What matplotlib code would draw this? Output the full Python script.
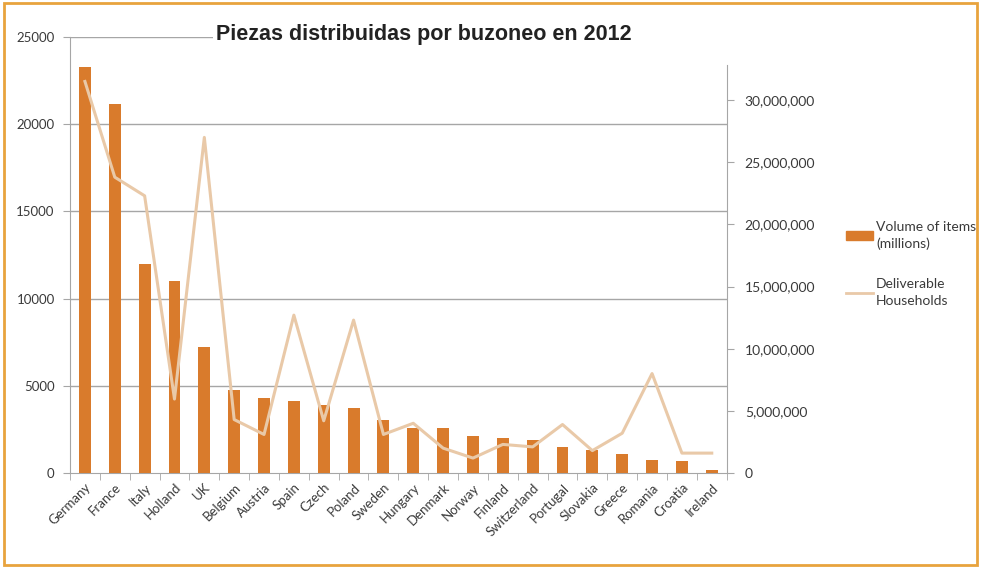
import matplotlib.pyplot as plt
from matplotlib.patches import Rectangle, Patch
from matplotlib.lines import Line2D
from matplotlib.ticker import FuncFormatter, FixedLocator
import numpy as np

# Datos por país
countries = ['Germany', 'France', 'Italy', 'Holland', 'UK', 'Belgium', 'Austria',
             'Spain', 'Czech', 'Poland', 'Sweden', 'Hungary', 'Denmark', 'Norway',
             'Finland', 'Switzerland', 'Portugal', 'Slovakia', 'Greece', 'Romania',
             'Croatia', 'Ireland']
volume_millions = [23300, 21150, 12000, 11000, 7200, 4750, 4300, 4100, 3900, 3700,
                   3050, 2600, 2600, 2100, 2000, 1900, 1500, 1300, 1100, 750, 700, 170]
households = [31.5e6, 23.8e6, 22.3e6, 5.95e6, 27.0e6, 4.3e6, 3.1e6, 12.7e6, 4.2e6,
              12.3e6, 3.1e6, 4.0e6, 2.0e6, 1.2e6, 2.3e6, 2.1e6, 3.9e6, 1.8e6,
              3.2e6, 8.0e6, 1.6e6, 1.6e6]
left_ticks = [0, 5000, 10000, 15000, 20000, 25000]
right_ticks = [0, 5e6, 10e6, 15e6, 20e6, 25e6, 30e6]

bar_color = '#d97b2c'
line_color = '#e9c9a8'
axis_color = '#a6a6a6'
text_color = '#3a3a3a'
font = 'Lato'

fig = plt.figure(figsize=(9.86, 5.67), dpi=100)
ax = fig.add_axes([0.071, 0.1658, 0.666, 0.769])
x = np.arange(len(countries))

ax.bar(x, volume_millions, width=0.4, color=bar_color, zorder=3)
ax.set_xlim(-0.5, len(countries) - 0.5)
ax.set_ylim(0, 25000)
ax.set_yticks(left_ticks)
for v in left_ticks[1:-1]:
    ax.axhline(v, color=axis_color, lw=1, zorder=1)
ax.axhline(25000, xmin=0, xmax=0.22, color=axis_color, lw=1, zorder=1)

ax.set_xticks(x)
ax.set_xticklabels(countries, rotation=45, ha='right', rotation_mode='anchor',
                   fontsize=9.5, color=text_color, family=font)
ax.xaxis.set_minor_locator(FixedLocator(np.arange(-0.5, len(countries), 1)))
ax.tick_params(axis='x', which='major', length=0, pad=6)
ax.tick_params(axis='x', which='minor', length=5, color=axis_color)
ax.tick_params(axis='y', length=5, color=axis_color, labelsize=9.5,
               labelcolor=text_color, pad=6)
for lbl in ax.get_yticklabels():
    lbl.set_family(font)

for s in ['top', 'right']:
    ax.spines[s].set_visible(False)
for s in ['left', 'bottom']:
    ax.spines[s].set_color(axis_color)

ax2 = ax.twinx()
ax2.plot(x, households, color=line_color, lw=2.2, zorder=4)
ax2.set_ylim(0, 35.08e6)
ax2.set_yticks(right_ticks)
ax2.yaxis.set_major_formatter(FuncFormatter(lambda v, p: f'{int(v):,}'))
ax2.tick_params(axis='y', length=5, color=axis_color, labelsize=10,
                labelcolor=text_color, pad=8)
for lbl in ax2.get_yticklabels():
    lbl.set_family(font)
for s in ['top', 'left', 'bottom']:
    ax2.spines[s].set_visible(False)
ax2.spines['right'].set_color(axis_color)
ax2.spines['right'].set_bounds(0, 32.8e6)

fig.text(0.43, 0.94, 'Piezas distribuidas por buzoneo en 2012', ha='center',
         va='center', fontsize=15.5, fontweight='bold', family='Liberation Sans',
         color='#222222', bbox=dict(facecolor='white', edgecolor='none', pad=2))

handles = [Patch(color=bar_color), Line2D([], [], color=line_color, lw=2)]
leg = fig.legend(handles, ['Volume of items\n(millions)', 'Deliverable\nHouseholds'],
                 loc='upper left', bbox_to_anchor=(0.845, 0.632), frameon=False,
                 prop={'family': font, 'size': 10}, labelcolor=text_color,
                 handlelength=2.0, handleheight=0.6, handletextpad=0.2,
                 labelspacing=2.0)
for t in leg.get_texts():
    t.set_linespacing(1.45)

fig.patches.append(Rectangle((0.004, 0.004), 0.987, 0.99, transform=fig.transFigure,
                             fill=False, edgecolor='#e8a33d', lw=2))

fig.savefig('out.png', dpi=100)
